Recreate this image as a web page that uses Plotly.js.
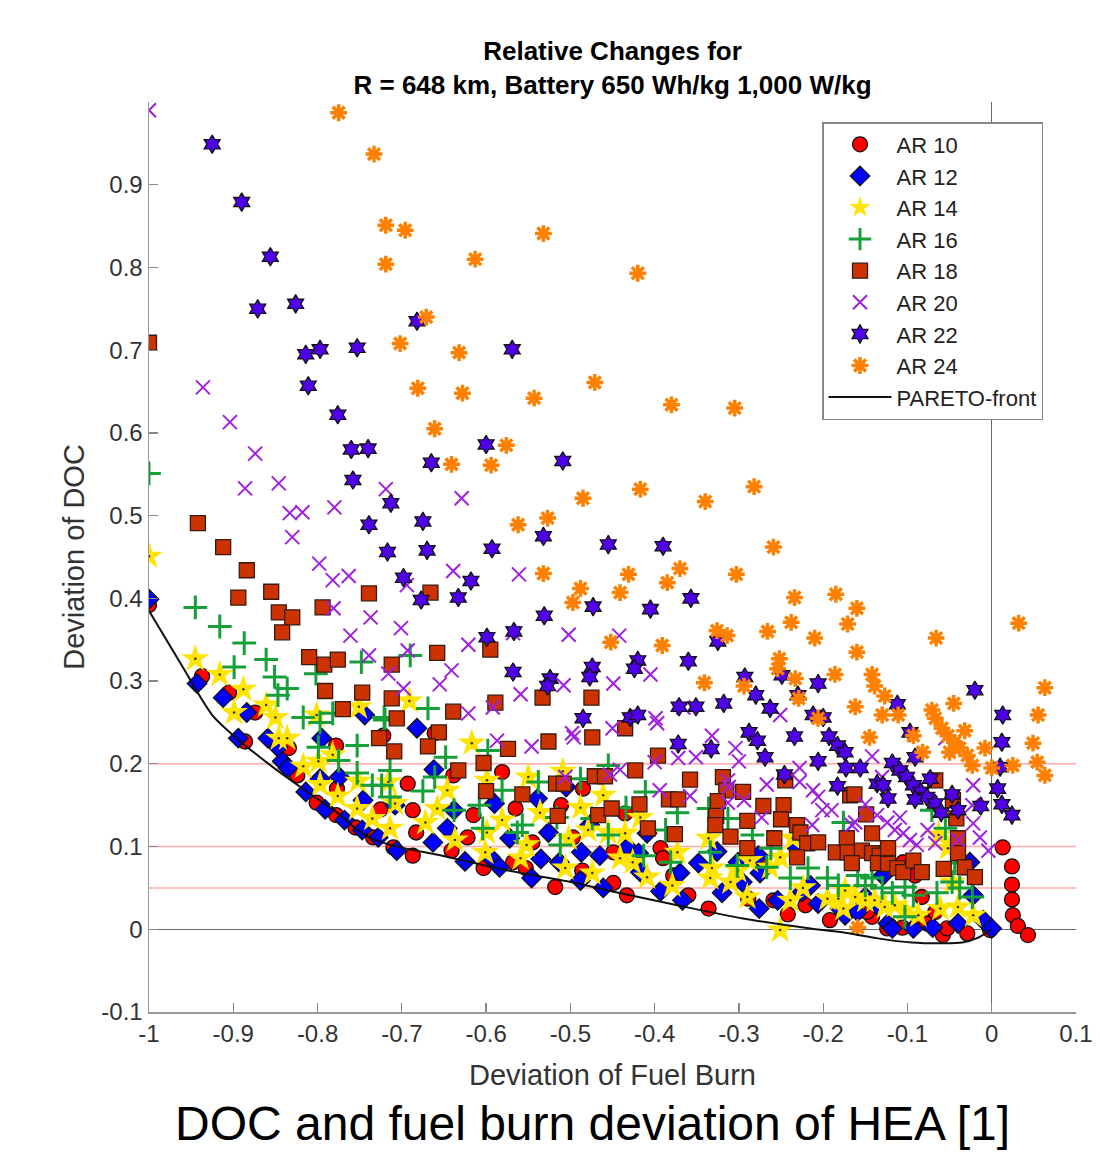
<!DOCTYPE html>
<html><head><meta charset="utf-8">
<script src="https://cdn.plot.ly/plotly-3.0.1.min.js"></script>
<style>html,body{margin:0;padding:0;background:#fff}#chart{width:1100px;height:1152px}</style>
</head><body><div id="chart"></div>
<script>
// ---- data: [fuel burn deviation, DOC deviation] ----
const ar10 = [[-1.000,0.392],[-0.937,0.306],[-0.905,0.286],[-0.874,0.262],[-0.886,0.227],[-0.834,0.219],[-0.824,0.186],[-0.801,0.153],[-0.778,0.138],[-0.755,0.123],[-0.734,0.111],[-0.778,0.222],[-0.777,0.170],[-0.722,0.234],[-0.710,0.099],[-0.687,0.089],[-0.693,0.176],[-0.687,0.144],[-0.683,0.117],[-0.661,0.237],[-0.639,0.186],[-0.641,0.095],[-0.615,0.138],[-0.622,0.111],[-0.603,0.074],[-0.581,0.190],[-0.565,0.146],[-0.568,0.081],[-0.553,0.074],[-0.545,0.105],[-0.518,0.051],[-0.511,0.150],[-0.497,0.111],[-0.486,0.071],[-0.485,0.170],[-0.725,0.145],[-0.449,0.056],[-0.433,0.041],[-0.435,0.140],[-0.449,0.093],[-0.393,0.098],[-0.390,0.086],[-0.378,0.065],[-0.360,0.041],[-0.336,0.025],[-0.289,0.037],[-0.275,0.081],[-0.259,0.035],[-0.242,0.018],[-0.221,0.029],[-0.192,0.011],[-0.142,0.015],[-0.124,0.001],[-0.106,0.002],[-0.085,0.011],[-0.077,0.007],[-0.067,0.021],[-0.058,-0.007],[-0.053,0.001],[-0.029,-0.005],[-0.002,-0.001],[0.013,0.099],[0.024,0.076],[0.024,0.054],[0.024,0.036],[0.025,0.017],[0.031,0.004],[0.043,-0.007],[-0.091,0.065],[-0.083,0.039],[-0.105,0.081],[-0.148,0.021]];
const ar12 = [[-1.000,0.399],[-0.943,0.297],[-0.912,0.280],[-0.884,0.262],[-0.894,0.231],[-0.859,0.231],[-0.847,0.220],[-0.842,0.203],[-0.835,0.195],[-0.814,0.166],[-0.791,0.145],[-0.797,0.182],[-0.774,0.184],[-0.795,0.231],[-0.768,0.132],[-0.747,0.120],[-0.744,0.259],[-0.746,0.156],[-0.728,0.111],[-0.706,0.095],[-0.682,0.243],[-0.662,0.193],[-0.638,0.144],[-0.663,0.105],[-0.646,0.122],[-0.625,0.082],[-0.590,0.152],[-0.595,0.087],[-0.584,0.075],[-0.572,0.110],[-0.546,0.062],[-0.539,0.158],[-0.535,0.085],[-0.526,0.117],[-0.513,0.081],[-0.505,0.172],[-0.487,0.093],[-0.488,0.059],[-0.477,0.126],[-0.465,0.089],[-0.461,0.050],[-0.708,0.150],[-0.432,0.099],[-0.419,0.092],[-0.417,0.069],[-0.409,0.116],[-0.393,0.046],[-0.370,0.068],[-0.367,0.035],[-0.348,0.080],[-0.326,0.094],[-0.320,0.044],[-0.296,0.057],[-0.277,0.089],[-0.275,0.068],[-0.276,0.025],[-0.254,0.035],[-0.225,0.045],[-0.215,0.053],[-0.206,0.031],[-0.180,0.025],[-0.301,0.081],[-0.231,0.098],[-0.174,0.017],[-0.159,0.021],[-0.136,0.029],[-0.123,0.007],[-0.118,0.001],[-0.093,0.001],[-0.070,0.002],[-0.040,0.007],[-0.026,0.081],[-0.022,0.041],[-0.010,0.011],[0.000,0.001],[-0.129,0.065],[-0.150,0.039]];
const ar14 = [[-1.000,0.451],[-0.945,0.327],[-0.916,0.308],[-0.888,0.290],[-0.861,0.271],[-0.899,0.262],[-0.850,0.256],[-0.801,0.259],[-0.751,0.269],[-0.691,0.276],[-0.846,0.231],[-0.836,0.231],[-0.817,0.197],[-0.799,0.203],[-0.782,0.211],[-0.797,0.175],[-0.776,0.161],[-0.753,0.146],[-0.752,0.179],[-0.735,0.134],[-0.714,0.122],[-0.716,0.178],[-0.708,0.152],[-0.672,0.129],[-0.658,0.146],[-0.646,0.168],[-0.637,0.108],[-0.617,0.225],[-0.599,0.180],[-0.581,0.132],[-0.601,0.093],[-0.559,0.086],[-0.550,0.184],[-0.536,0.141],[-0.552,0.102],[-0.509,0.191],[-0.488,0.147],[-0.502,0.110],[-0.479,0.120],[-0.506,0.074],[-0.474,0.068],[-0.461,0.162],[-0.455,0.117],[-0.599,0.117],[-0.417,0.135],[-0.435,0.116],[-0.441,0.086],[-0.426,0.081],[-0.409,0.063],[-0.373,0.093],[-0.379,0.053],[-0.336,0.110],[-0.332,0.074],[-0.334,0.062],[-0.310,0.057],[-0.301,0.071],[-0.287,0.083],[-0.290,0.039],[-0.263,0.075],[-0.251,0.087],[-0.239,0.035],[-0.224,0.050],[-0.251,-0.001],[-0.195,0.037],[-0.182,0.037],[-0.176,0.025],[-0.236,0.110],[-0.174,0.047],[-0.162,0.039],[-0.150,0.035],[-0.139,0.035],[-0.127,0.027],[-0.115,0.029],[-0.103,0.023],[-0.087,0.017],[-0.061,0.025],[-0.040,0.027],[-0.022,0.017],[-0.063,0.114],[-0.052,0.098],[-0.047,0.057]];
const ar16 = [[-1.000,0.551],[-0.945,0.389],[-0.916,0.366],[-0.887,0.346],[-0.899,0.317],[-0.861,0.326],[-0.851,0.305],[-0.836,0.291],[-0.847,0.283],[-0.802,0.309],[-0.748,0.323],[-0.690,0.331],[-0.669,0.267],[-0.817,0.256],[-0.782,0.261],[-0.721,0.256],[-0.797,0.250],[-0.799,0.220],[-0.775,0.204],[-0.753,0.222],[-0.753,0.189],[-0.735,0.174],[-0.720,0.253],[-0.714,0.192],[-0.724,0.174],[-0.714,0.160],[-0.675,0.167],[-0.648,0.208],[-0.661,0.184],[-0.638,0.144],[-0.608,0.150],[-0.598,0.216],[-0.581,0.168],[-0.604,0.122],[-0.557,0.126],[-0.563,0.117],[-0.538,0.178],[-0.512,0.102],[-0.488,0.182],[-0.516,0.135],[-0.474,0.134],[-0.455,0.198],[-0.455,0.114],[-0.411,0.166],[-0.434,0.147],[-0.373,0.141],[-0.387,0.120],[-0.381,0.081],[-0.413,0.089],[-0.336,0.146],[-0.313,0.134],[-0.284,0.114],[-0.334,0.093],[-0.302,0.077],[-0.262,0.098],[-0.267,0.075],[-0.239,0.062],[-0.218,0.074],[-0.176,0.129],[-0.195,0.062],[-0.182,0.053],[-0.071,0.144],[-0.055,0.122],[-0.159,0.065],[-0.150,0.053],[-0.142,0.062],[-0.130,0.050],[-0.118,0.044],[-0.103,0.051],[-0.093,0.041],[-0.065,0.044],[-0.047,0.057],[-0.038,0.050],[-0.023,0.039],[-0.103,0.015],[-0.044,0.080]];
const ar18 = [[-1.000,0.709],[-0.942,0.491],[-0.912,0.462],[-0.884,0.434],[-0.894,0.401],[-0.855,0.408],[-0.846,0.383],[-0.830,0.377],[-0.842,0.359],[-0.794,0.389],[-0.739,0.406],[-0.666,0.407],[-0.810,0.329],[-0.792,0.320],[-0.776,0.326],[-0.712,0.320],[-0.658,0.334],[-0.791,0.288],[-0.747,0.286],[-0.712,0.279],[-0.770,0.266],[-0.639,0.263],[-0.706,0.255],[-0.595,0.338],[-0.589,0.274],[-0.533,0.280],[-0.475,0.280],[-0.727,0.231],[-0.709,0.215],[-0.656,0.238],[-0.669,0.221],[-0.574,0.218],[-0.526,0.227],[-0.474,0.232],[-0.633,0.192],[-0.603,0.201],[-0.600,0.167],[-0.557,0.163],[-0.517,0.176],[-0.508,0.176],[-0.471,0.185],[-0.459,0.185],[-0.515,0.137],[-0.467,0.138],[-0.451,0.146],[-0.435,0.243],[-0.396,0.210],[-0.423,0.192],[-0.358,0.181],[-0.383,0.157],[-0.372,0.157],[-0.319,0.184],[-0.315,0.168],[-0.295,0.166],[-0.325,0.155],[-0.327,0.137],[-0.328,0.126],[-0.271,0.149],[-0.247,0.150],[-0.250,0.133],[-0.290,0.131],[-0.418,0.151],[-0.408,0.122],[-0.376,0.115],[-0.310,0.112],[-0.258,0.110],[-0.231,0.126],[-0.227,0.117],[-0.219,0.104],[-0.206,0.105],[-0.290,0.098],[-0.231,0.087],[-0.185,0.093],[-0.172,0.110],[-0.171,0.093],[-0.168,0.162],[-0.245,0.180],[-0.067,0.180],[-0.163,0.163],[-0.149,0.139],[-0.142,0.116],[-0.154,0.095],[-0.142,0.092],[-0.133,0.089],[-0.123,0.098],[-0.166,0.080],[-0.135,0.080],[-0.123,0.079],[-0.112,0.074],[-0.105,0.069],[-0.093,0.083],[-0.083,0.069],[-0.057,0.073],[-0.046,0.156],[-0.042,0.134],[-0.040,0.110],[-0.040,0.092],[-0.032,0.075],[-0.020,0.063]];
const ar20 = [[-1.000,0.990],[-0.936,0.655],[-0.904,0.613],[-0.874,0.575],[-0.886,0.533],[-0.846,0.539],[-0.833,0.503],[-0.818,0.504],[-0.830,0.474],[-0.780,0.510],[-0.719,0.532],[-0.629,0.521],[-0.798,0.442],[-0.782,0.422],[-0.763,0.427],[-0.639,0.433],[-0.694,0.416],[-0.781,0.388],[-0.737,0.377],[-0.761,0.355],[-0.701,0.364],[-0.739,0.331],[-0.693,0.337],[-0.641,0.313],[-0.716,0.309],[-0.655,0.296],[-0.698,0.291],[-0.561,0.429],[-0.621,0.344],[-0.568,0.358],[-0.502,0.356],[-0.442,0.355],[-0.559,0.284],[-0.508,0.295],[-0.449,0.297],[-0.405,0.308],[-0.592,0.268],[-0.621,0.261],[-0.366,0.268],[-0.399,0.255],[-0.587,0.228],[-0.546,0.221],[-0.498,0.237],[-0.496,0.232],[-0.450,0.243],[-0.506,0.184],[-0.453,0.187],[-0.397,0.249],[-0.332,0.234],[-0.372,0.207],[-0.351,0.208],[-0.400,0.202],[-0.304,0.219],[-0.300,0.203],[-0.441,0.193],[-0.267,0.175],[-0.394,0.168],[-0.358,0.161],[-0.313,0.180],[-0.312,0.172],[-0.294,0.156],[-0.313,0.153],[-0.228,0.195],[-0.228,0.178],[-0.212,0.168],[-0.206,0.160],[-0.201,0.144],[-0.190,0.144],[-0.273,0.135],[-0.213,0.126],[-0.251,0.259],[-0.142,0.209],[-0.130,0.184],[-0.150,0.151],[-0.162,0.129],[-0.136,0.138],[-0.124,0.129],[-0.115,0.120],[-0.105,0.116],[-0.097,0.108],[-0.089,0.102],[-0.109,0.135],[-0.076,0.120],[-0.067,0.104],[-0.022,0.174],[-0.023,0.150],[-0.022,0.128],[-0.014,0.111],[-0.004,0.095],[-0.040,0.108],[-0.055,0.231],[-0.166,0.126]];
const ar22 = [[-0.925,0.949],[-0.890,0.879],[-0.856,0.813],[-0.871,0.750],[-0.826,0.756],[-0.682,0.735],[-0.814,0.695],[-0.797,0.701],[-0.753,0.703],[-0.569,0.701],[-0.811,0.657],[-0.776,0.622],[-0.760,0.580],[-0.740,0.581],[-0.665,0.564],[-0.758,0.543],[-0.713,0.515],[-0.739,0.489],[-0.675,0.493],[-0.717,0.456],[-0.670,0.458],[-0.698,0.425],[-0.677,0.398],[-0.633,0.401],[-0.600,0.586],[-0.509,0.566],[-0.532,0.475],[-0.593,0.460],[-0.455,0.465],[-0.390,0.463],[-0.618,0.421],[-0.531,0.379],[-0.473,0.390],[-0.405,0.387],[-0.357,0.400],[-0.567,0.360],[-0.599,0.353],[-0.325,0.348],[-0.360,0.324],[-0.420,0.325],[-0.424,0.315],[-0.474,0.317],[-0.477,0.305],[-0.524,0.303],[-0.527,0.294],[-0.568,0.311],[-0.293,0.305],[-0.280,0.283],[-0.318,0.273],[-0.351,0.269],[-0.371,0.269],[-0.263,0.267],[-0.485,0.255],[-0.429,0.256],[-0.420,0.259],[-0.249,0.307],[-0.206,0.297],[-0.230,0.283],[-0.212,0.259],[-0.200,0.256],[-0.112,0.272],[-0.020,0.289],[0.013,0.259],[-0.372,0.224],[-0.333,0.218],[-0.288,0.238],[-0.278,0.228],[-0.234,0.233],[-0.269,0.208],[-0.206,0.203],[-0.246,0.187],[-0.193,0.233],[-0.183,0.222],[-0.174,0.214],[-0.173,0.195],[-0.183,0.173],[0.012,0.226],[0.010,0.196],[0.007,0.170],[0.012,0.151],[0.024,0.138],[-0.156,0.195],[-0.118,0.201],[-0.109,0.192],[-0.101,0.184],[-0.093,0.174],[-0.084,0.166],[-0.077,0.160],[-0.067,0.152],[-0.060,0.141],[-0.091,0.208],[-0.073,0.182],[-0.097,0.238],[-0.136,0.176],[-0.129,0.174],[-0.123,0.158],[-0.091,0.157],[-0.047,0.163],[-0.040,0.144],[-0.013,0.149]];
const ar24 = [[-0.775,0.987],[-0.733,0.937],[-0.719,0.851],[-0.696,0.845],[-0.719,0.804],[-0.613,0.810],[-0.532,0.841],[-0.420,0.793],[-0.671,0.740],[-0.702,0.708],[-0.632,0.697],[-0.681,0.654],[-0.628,0.648],[-0.543,0.642],[-0.471,0.661],[-0.380,0.634],[-0.305,0.630],[-0.661,0.605],[-0.641,0.562],[-0.594,0.561],[-0.576,0.585],[-0.485,0.521],[-0.417,0.532],[-0.282,0.535],[-0.340,0.517],[-0.562,0.489],[-0.527,0.497],[-0.259,0.462],[-0.532,0.430],[-0.431,0.429],[-0.370,0.436],[-0.385,0.419],[-0.303,0.429],[-0.488,0.412],[-0.441,0.407],[-0.497,0.395],[-0.452,0.347],[-0.391,0.343],[-0.326,0.361],[-0.314,0.355],[-0.266,0.360],[-0.341,0.298],[-0.294,0.294],[-0.234,0.401],[-0.185,0.405],[-0.160,0.388],[-0.238,0.371],[-0.171,0.369],[-0.210,0.352],[-0.066,0.352],[0.032,0.370],[-0.160,0.335],[-0.252,0.327],[-0.254,0.315],[-0.233,0.303],[-0.186,0.308],[-0.142,0.308],[-0.139,0.294],[-0.127,0.282],[-0.162,0.269],[-0.071,0.265],[-0.045,0.273],[0.063,0.292],[0.055,0.259],[-0.130,0.259],[-0.111,0.259],[-0.229,0.279],[-0.206,0.255],[-0.067,0.255],[-0.059,0.243],[-0.052,0.234],[-0.044,0.226],[-0.038,0.219],[-0.029,0.210],[-0.023,0.198],[-0.050,0.214],[-0.082,0.214],[-0.093,0.234],[-0.145,0.232],[-0.032,0.240],[-0.008,0.219],[0.000,0.195],[0.049,0.225],[0.025,0.198],[0.054,0.202],[0.063,0.186],[-0.159,0.002]];
const pareto = [[-1.000,0.385],[-0.960,0.317],[-0.925,0.259],[-0.896,0.231],[-0.853,0.196],[-0.812,0.166],[-0.773,0.138],[-0.755,0.122],[-0.732,0.108],[-0.702,0.099],[-0.652,0.089],[-0.574,0.071],[-0.494,0.056],[-0.447,0.045],[-0.373,0.029],[-0.295,0.013],[-0.215,0.001],[-0.168,-0.005],[-0.135,-0.011],[-0.095,-0.016],[-0.059,-0.017],[-0.035,-0.016],[-0.016,-0.010],[0.000,0.000]];
const refLines = [0.2, 0.1, 0.05];
const xTickVals = [-1,-0.9,-0.8,-0.7,-0.6,-0.5,-0.4,-0.3,-0.2,-0.1,0,0.1];
const xTickText = ['-1','-0.9','-0.8','-0.7','-0.6','-0.5','-0.4','-0.3','-0.2','-0.1','0','0.1'];
const yTickVals = [-0.1,0,0.1,0.2,0.3,0.4,0.5,0.6,0.7,0.8,0.9];
const yTickText = ['-0.1','0','0.1','0.2','0.3','0.4','0.5','0.6','0.7','0.8','0.9'];

const FONT = 'Liberation Sans, Arial, Helvetica, sans-serif';
const xs = p => p.map(d => d[0]);
const ys = p => p.map(d => d[1]);
function pts(name, data, marker, extra) {
  return Object.assign({type:'scatter', mode:'markers', name:name, x:xs(data), y:ys(data), marker:marker, hoverinfo:'x+y'}, extra||{});
}
const traces = [
  pts('AR 10', ar10, {symbol:'circle', size:15, color:'#ff0000', line:{color:'#111', width:1.3}}),
  pts('AR 12', ar12, {symbol:'diamond', size:15, color:'#0000ff', line:{color:'#111', width:1.3}}),
  pts('AR 14', ar14, {symbol:'star', size:21, color:'#ffe400', line:{color:'#ffe400', width:0}}),
  pts('AR 14 dot', ar14, {symbol:'circle', size:2.5, color:'#333'}, {showlegend:false, hoverinfo:'skip'}),
  pts('AR 16', ar16, {symbol:'cross-thin', size:17, color:'#16a03a', line:{color:'#16a03a', width:3}}),
  pts('AR 18', ar18, {symbol:'square', size:15, color:'#cc3300', line:{color:'#3a1a10', width:1.3}}),
  pts('AR 20', ar20, {symbol:'x-thin', size:14, color:'#a020e0', line:{color:'#a020e0', width:2}}),
  pts('AR 22', ar22, {symbol:'hexagram', size:14, color:'#4f00e8', line:{color:'#111', width:1.3}}),
  pts('AR 24', ar24, {symbol:'asterisk-open', size:14, color:'#ff8000', line:{color:'#ff8000', width:3.5}}),
  {type:'scatter', mode:'lines', name:'PARETO-front', x:xs(pareto), y:ys(pareto), line:{color:'#111', width:2, shape:'spline', smoothing:0.8}}
];

const layout = {
  width:1100, height:1152,
  paper_bgcolor:'#fff', plot_bgcolor:'#fff',
  margin:{l:149, r:24, t:102, b:140},
  font:{family:FONT, color:'#333'},
  showlegend:true,
  title:{text:'<b>Relative Changes for</b><br><b>R = 648 km, Battery 650 Wh/kg 1,000 W/kg</b>', font:{family:FONT, size:26, color:'#000'}, x:0.5, xref:'paper', y:0.948, yref:'container', yanchor:'top'},
  xaxis:{range:[-1,0.1], tickvals:xTickVals, ticktext:xTickText, ticks:'inside', ticklen:9, tickcolor:'#888', tickwidth:1.2,
    showline:true, linecolor:'#999', linewidth:1.5, mirror:false, showgrid:false,
    zeroline:true, zerolinecolor:'#666', zerolinewidth:1.5,
    tickfont:{size:24, color:'#333'},
    title:{text:'Deviation of Fuel Burn', font:{size:29, color:'#333'}, standoff:18}},
  yaxis:{range:[-0.1,1.0], tickvals:yTickVals, ticktext:yTickText, ticks:'inside', ticklen:9, tickcolor:'#888', tickwidth:1.2,
    showline:true, linecolor:'#999', linewidth:1.5, mirror:false, showgrid:false,
    zeroline:true, zerolinecolor:'#666', zerolinewidth:1.5,
    tickfont:{size:24, color:'#333'},
    title:{text:'Deviation of DOC', font:{size:29, color:'#333'}, standoff:8}},
  legend:{x:0.726, y:0.978, xanchor:'left', yanchor:'top', bgcolor:'#fff', bordercolor:'#888', borderwidth:1.5,
    font:{size:22, color:'#222'}, tracegroupgap:0, itemwidth:63},
  shapes: refLines.map(v => ({type:'line', xref:'paper', x0:0, x1:1, yref:'y', y0:v, y1:v, layer:'below', line:{color:'#ffaaaa', width:1.5}})),
  annotations:[{text:'DOC and fuel burn deviation of HEA [1]', xref:'paper', yref:'paper', x:0.478, y:-0.1225, xanchor:'center', yanchor:'middle', showarrow:false,
    font:{family:FONT, size:48, color:'#000'}}]
};
Plotly.newPlot('chart', traces, layout, {staticPlot:true});
</script></body></html>
